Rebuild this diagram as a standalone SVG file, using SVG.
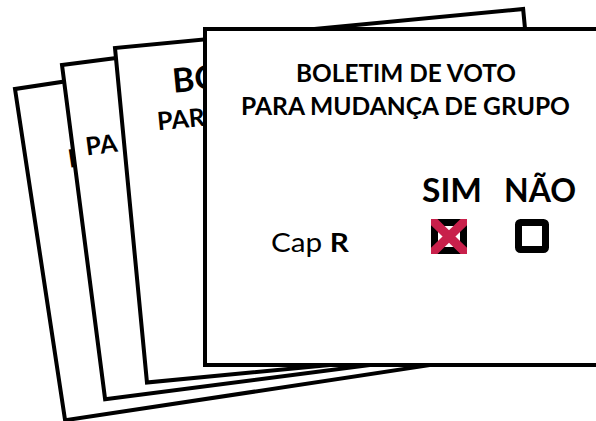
<svg xmlns="http://www.w3.org/2000/svg" width="596" height="421" viewBox="0 0 596 421">
  <style>
    .card { fill: #ffffff; stroke: #000000; stroke-width: 4; stroke-linejoin: miter; }
    .t { font-family: Lato, "Open Sans", "Liberation Sans", sans-serif; fill: #000000; }
    .b { font-weight: 700; }
    .box { fill: #ffffff; stroke: #000000; stroke-width: 7; }
    .x { stroke: #C8204B; stroke-width: 9; stroke-linecap: butt; }
  </style>
  <defs>
    <clipPath id="simclip"><rect x="431" y="219" width="36" height="35"/></clipPath>
  </defs>
  <rect x="0" y="0" width="596" height="421" fill="#ffffff"/>

  <g id="card4" transform="translate(15,89) rotate(-8.6)">
    <rect class="card" x="0" y="0" width="400" height="335"/>
    <text class="t b" x="42" y="86" font-size="25">P</text>
  </g>

  <g id="card3" transform="translate(62,65) rotate(-7.35)">
    <rect class="card" x="0" y="0" width="300" height="337"/>
    <text class="t b" x="13" y="93" font-size="25">PA</text>
  </g>

  <g id="card2" transform="translate(115,48) rotate(-5.46)">
    <rect class="card" x="0" y="0" width="410" height="336"/>
    <text class="t b" x="54" y="50" font-size="33.5">BO</text>
    <text class="t b" x="35" y="86" font-size="25">PAR</text>
  </g>

  <g id="card1">
    <rect class="card" x="205" y="29" width="410" height="336"/>
    <text class="t b" x="406" y="82" font-size="25" text-anchor="middle" textLength="220" lengthAdjust="spacingAndGlyphs">BOLETIM DE VOTO</text>
    <text class="t b" x="405.5" y="115" font-size="25" text-anchor="middle" textLength="329" lengthAdjust="spacingAndGlyphs">PARA MUDANÇA DE GRUPO</text>
    <text class="t b" x="452" y="202" font-size="32" text-anchor="middle" textLength="60" lengthAdjust="spacingAndGlyphs">SIM</text>
    <text class="t b" x="540" y="202" font-size="32" text-anchor="middle" textLength="72" lengthAdjust="spacingAndGlyphs">NÃO</text>
    <text class="t" x="271" y="252" font-size="27.5" textLength="78" lengthAdjust="spacingAndGlyphs">Cap <tspan class="b">R</tspan></text>
    <g id="sim-box">
      <rect class="box" x="434.5" y="222.5" width="29" height="28" rx="2"/>
      <g clip-path="url(#simclip)">
        <line class="x" x1="431" y1="219" x2="467" y2="254"/>
        <line class="x" x1="467" y1="219" x2="431" y2="254"/>
      </g>
    </g>
    <g id="nao-box">
      <rect class="box" x="518.5" y="222.5" width="27" height="27" rx="2"/>
    </g>
  </g>
</svg>
